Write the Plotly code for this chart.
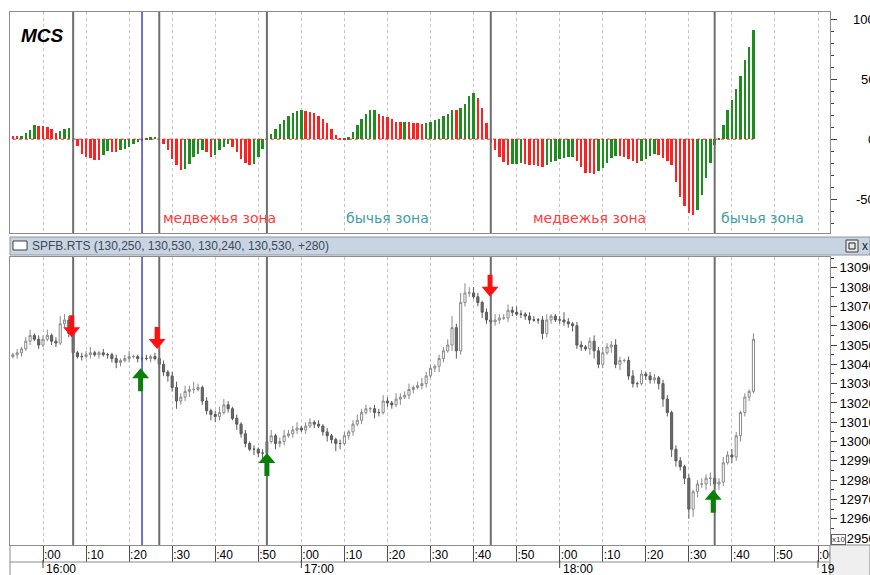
import pandas as pd
import plotly.graph_objects as go

DAY = "2013-01-01 "
first_bar = DAY + "15:53"

# MCS indicator, one value per minute (15:53 .. 18:45)
mcs = [3, 2.5, 3, 5, 8, 11.5, 11.2, 10.8, 10, 8.5, 5.5, 6.5, 8.5, 9,
       -2, -5.8, -12.2, -14.5, -15.8, -17, -17.5, -13.6, -10, -10.8, -11.1, -9.4, -8.1, -6.7, -4.4, -2.5,
       -0.8, 0.8, 1.5, 2.2, -0.5,
       -3.9, -9.4, -16.4, -21.9, -26.1, -24.7, -20.6, -15, -12.2, -8.9, -10.5, -14.5, -12.8, -9.4, -6.7,
       -4.2, -6.7, -10.8, -16.4, -19.5, -21.9, -20.6, -15, -8,
       0.5, 4.5, 8.5, 12.5, 16, 19, 21.5, 23.5, 24,
       23.5, 22.8, 21.5, 19.5, 17, 13.3, 8.6, 3.6, 1.2, 0.3,
       1.5, 5.8, 11.4, 16.9, 21.1, 23.9, 24.5,
       21.1, 19.7, 18.3, 16.9, 14.2, 14.0, 14.3, 14.1, 13.3, 13.1, 12.8,
       13.3, 14.2, 15.6, 16.9, 18.9, 21.1, 24.4, 24.2, 26, 29.4, 36.1, 38.9, 34.4, 26.1, 13.3,
       -3, -9.4, -15, -19.2, -21.9, -21.1, -20.5, -19.7, -20.3, -21.4, -21.9, -22.5, -23.3, -21.9, -19.2,
       -17.8, -16.4, -15.8, -15, -14.7,
       -18.6, -22.8, -27.8, -28.3, -28.8, -26.9, -24.2, -20, -15.8, -13.9, -14.4, -15, -16.7, -18.6, -20,
       -18.6, -16.7, -14.4, -12.2, -13.1, -15.8, -18.6, -21.4, -35.3, -47.8, -56.1, -61.7, -63.1, -58.9,
       -46.4, -32.5, -20, -5, 0.3,
       11.9, 24.4, 32.8, 41.7, 52.8, 66.1, 76.7, 90.6]

# SPFB.RTS one-minute candles (price shown /10)
first_open = 13044
close = [13045, 13046, 13048, 13052, 13055, 13053, 13050, 13053, 13055, 13052,
         13051, 13061, 13063, 13056, 13046, 13044, 13044, 13045, 13046, 13045,
         13046, 13045, 13045, 13043, 13041, 13042, 13043, 13044, 13044, 13043,
         13043, 13043, 13044, 13043, 13040, 13036, 13034, 13028, 13021, 13023,
         13026, 13027, 13027, 13028, 13021, 13016, 13014, 13013, 13015, 13019,
         13017, 13012, 13009, 13004, 12999, 12996, 12996, 12994, 12994, 13000,
         13003, 12999, 13000, 13003, 13004, 13006, 13007, 13006, 13008, 13010,
         13009, 13008, 13005, 13003, 13001, 12999, 12999, 13003, 13005, 13009,
         13011, 13015, 13017, 13017, 13015, 13015, 13021, 13020, 13019, 13022,
         13023, 13024, 13027, 13028, 13029, 13030, 13034, 13038, 13039, 13043,
         13047, 13050, 13059, 13047, 13072, 13077, 13077, 13075, 13072, 13067,
         13063, 13062, 13063, 13064, 13064, 13068, 13067, 13066, 13066, 13065,
         13063, 13063, 13063, 13056, 13063, 13065, 13063, 13063, 13062, 13061,
         13060, 13050, 13049, 13048, 13052, 13047, 13040, 13046, 13049, 13050,
         13040, 13042, 13042, 13034, 13030, 13030, 13035, 13034, 13032, 13033,
         13030, 13022, 13015, 12996, 12990, 12987, 12981, 12965, 12974, 12978,
         12978, 12981, 12981, 12978, 12979, 12989, 12993, 12992, 13003, 13015,
         13023, 13026, 13053]
wick_hi = [1, 2, 1, 2, 3, 1, 2, 2, 3, 1, 2, 4, 3, 2, 1, 1, 2, 2, 3, 1,
           1, 2, 1, 1, 2, 1, 2, 3, 1, 1, 1, 2, 1, 2, 1, 2, 1, 2, 3, 2,
           3, 2, 4, 2, 1, 2, 1, 2, 3, 3, 2, 1, 2, 1, 2, 1, 2, 1, 2, 2,
           3, 1, 2, 3, 2, 2, 3, 1, 2, 2, 1, 2, 1, 2, 1, 1, 2, 2, 1, 2,
           3, 2, 2, 1, 2, 2, 3, 2, 1, 3, 2, 2, 3, 1, 2, 3, 2, 2, 1, 2,
           2, 3, 6, 2, 5, 5, 3, 3, 2, 1, 2, 1, 3, 2, 2, 3, 2, 3, 2, 1,
           2, 2, 1, 2, 3, 1, 1, 2, 4, 2, 1, 2, 2, 1, 2, 3, 2, 3, 2, 2,
           3, 2, 1, 2, 3, 1, 2, 1, 2, 2, 1, 2, 2, 1, 2, 2, 1, 2, 1, 2,
           3, 2, 3, 2, 2, 3, 2, 3, 2, 1, 2, 1, 3]
wick_lo = [1, 2, 2, 1, 2, 1, 2, 1, 1, 2, 2, 1, 2, 2, 3, 1, 2, 1, 2, 1,
           2, 1, 2, 2, 3, 2, 1, 2, 1, 2, 1, 1, 2, 1, 2, 2, 3, 2, 4, 2,
           2, 3, 2, 1, 2, 2, 3, 3, 2, 1, 2, 1, 3, 2, 2, 1, 3, 2, 3, 2,
           1, 3, 2, 2, 1, 2, 2, 1, 2, 1, 2, 1, 2, 3, 2, 4, 3, 1, 2, 2,
           1, 2, 1, 2, 3, 2, 1, 2, 2, 1, 3, 1, 2, 2, 1, 2, 2, 1, 2, 3,
           2, 1, 3, 4, 2, 2, 2, 1, 2, 3, 2, 1, 2, 2, 1, 2, 2, 1, 2, 2,
           2, 1, 2, 3, 2, 2, 1, 2, 2, 2, 3, 2, 2, 1, 3, 4, 2, 2, 1, 3,
           2, 3, 1, 2, 2, 2, 1, 2, 2, 2, 3, 4, 2, 4, 3, 2, 3, 5, 4, 3,
           2, 3, 4, 2, 3, 2, 1, 3, 2, 3, 2, 2, 1]

zone_times = ["16:07", "16:27", "16:52", "17:44", "18:36"]
blue_time = "16:23"
sell_times = ["16:06:40", "16:26:30", "17:43:50"]
sell_prices = [13054, 13048, 13075]
buy_times = ["16:22:40", "16:52", "18:35:40"]
buy_prices = [13038, 12994, 12975]
zone_labels = ["медвежья зона", "бычья зона", "медвежья зона", "бычья зона"]
zone_label_times = ["16:41", "17:20", "18:07", "18:47"]
mcs_ticks = [100, 50, 0, -50]
hour_labels = ["16:00", "17:00", "18:00", "19"]
hour_times = ["16:00", "17:00", "18:00", "19:00"]
title_text = "SPFB.RTS (130,250, 130,530, 130,240, 130,530, +280)"

# ---------------------------------------------------------------
times = pd.date_range(first_bar, periods=len(close), freq="min")
opens = [first_open] + close[:-1]
highs = [max(o, c) + w for o, c, w in zip(opens, close, wick_hi)]
lows = [min(o, c) - w for o, c, w in zip(opens, close, wick_lo)]
GREEN, RED = "#1f8c1f", "#ff2020"
bar_colors = [GREEN if i > 0 and mcs[i] > mcs[i - 1] else RED for i in range(len(mcs))]

x_range = [DAY + "15:52:20", DAY + "19:02:47"]
tickvals = pd.date_range(DAY + "15:50", DAY + "19:00", freq="10min")
ticktext = [f":{t.minute:02d}" for t in tickvals]

FONT = "Liberation Sans"
GRID = "#c4c4c4"
BORDER = "#8c8c8c"

fig = go.Figure()
fig.add_trace(go.Bar(x=times, y=mcs, marker=dict(color=bar_colors, line=dict(width=0)),
                     width=34000, xaxis="x", yaxis="y", showlegend=False, hoverinfo="skip"))
fig.add_trace(go.Scatter(x=[times[0], times[-1]], y=[0, 0], mode="lines",
                         line=dict(color=RED, width=1, dash="dot"), xaxis="x", yaxis="y",
                         showlegend=False, hoverinfo="skip"))
fig.add_trace(go.Candlestick(x=times, open=opens, high=highs, low=lows, close=close,
                             increasing=dict(fillcolor="white", line=dict(color="#8a8a8a", width=1)),
                             decreasing=dict(fillcolor="#6a6a6a", line=dict(color="#5a5a5a", width=1)),
                             whiskerwidth=0, xaxis="x2", yaxis="y2", showlegend=False))

top_dom = [0.5854, 1.0]
bot_dom = [0.0, 0.5403]

fig.update_layout(
    width=870, height=575,
    margin=dict(l=10, r=40, t=12, b=30),
    paper_bgcolor="white", plot_bgcolor="white",
    font=dict(family=FONT, size=12, color="black"),
    bargap=0,
    xaxis=dict(domain=[0, 1], anchor="y", range=x_range, type="date", automargin=False,
               tickvals=tickvals, showticklabels=False, ticks="",
               showgrid=True, gridcolor=GRID, griddash="dot", gridwidth=1,
               showline=True, mirror=True, linecolor=BORDER, linewidth=1,
               rangeslider=dict(visible=False)),
    yaxis=dict(domain=top_dom, anchor="x", range=[-78.2, 106], side="right", automargin=False,
               showgrid=False, zeroline=False, showline=True, mirror=True,
               linecolor=BORDER, linewidth=1,
               tickvals=mcs_ticks, ticks="outside", ticklen=6, tickcolor="#404040",
               showticklabels=False,
               minor=dict(tick0=0, dtick=10, ticks="outside", ticklen=3, tickcolor="#404040")),
    xaxis2=dict(domain=[0, 1], anchor="y2", range=x_range, type="date", automargin=False,
                tickvals=tickvals, ticktext=ticktext, ticks="outside", ticklen=16,
                tickcolor="#505050", ticklabelposition="outside right",
                ticklabelstandoff=-1, tickfont=dict(size=12, family=FONT),
                showgrid=True, gridcolor=GRID, griddash="dot", gridwidth=1,
                showline=True, mirror=True, linecolor=BORDER, linewidth=1,
                rangeslider=dict(visible=False)),
    yaxis2=dict(domain=bot_dom, anchor="x2", range=[12946.4, 13095.6], side="right", automargin=False,
                showgrid=False, zeroline=False, showline=True, mirror=True,
                linecolor=BORDER, linewidth=1,
                tick0=0, dtick=10, tickformat="d", ticks="outside", ticklen=6,
                tickcolor="#404040", tickfont=dict(size=13, family=FONT),
                minor=dict(tick0=0, dtick=5, ticks="outside", ticklen=3, tickcolor="#404040")),
)

shapes = []
# zone-change vertical lines in both panels
for t in zone_times:
    for xr, yr in (("x", "y domain"), ("x2", "y2 domain")):
        shapes.append(dict(type="line", xref=xr, yref=yr, x0=DAY + t, x1=DAY + t, y0=0, y1=1,
                           line=dict(color="#6e6e6e", width=2)))
for xr, yr in (("x", "y domain"), ("x2", "y2 domain")):
    shapes.append(dict(type="line", xref=xr, yref=yr, x0=DAY + blue_time, x1=DAY + blue_time,
                       y0=0, y1=1, line=dict(color="#4646b8", width=1.5)))

# block arrows for signals (pixel-sized paths anchored at the signal price)
DOWN_ARROW = "M0,0 L-8.5,10 L-2.5,10 L-2.5,22 L2.5,22 L2.5,10 L8.5,10 Z"
UP_ARROW = "M0,0 L-8.5,-10 L-2.5,-10 L-2.5,-23 L2.5,-23 L2.5,-10 L8.5,-10 Z"
for t, p in zip(sell_times, sell_prices):
    shapes.append(dict(type="path", xref="x2", yref="y2", xsizemode="pixel", ysizemode="pixel",
                       xanchor=DAY + t, yanchor=p, path=DOWN_ARROW,
                       fillcolor="#ff1010", line=dict(width=0), layer="above"))
for t, p in zip(buy_times, buy_prices):
    shapes.append(dict(type="path", xref="x2", yref="y2", xsizemode="pixel", ysizemode="pixel",
                       xanchor=DAY + t, yanchor=p, path=UP_ARROW,
                       fillcolor="#0a800a", line=dict(width=0), layer="above"))

# title bar of price pane
tb_y0, tb_y1 = (545 - 255) / 533, (545 - 237) / 533
shapes.append(dict(type="rect", xref="paper", yref="paper", x0=0, x1=(870 - 10) / 820,
                   y0=tb_y0, y1=tb_y1, fillcolor="#c8d4e2", line=dict(color="#8a96a4", width=1)))
shapes.append(dict(type="rect", xref="paper", yref="paper", x0=3 / 820, x1=17 / 820,
                   y0=(545 - 250) / 533, y1=(545 - 241) / 533, fillcolor="white",
                   line=dict(color="#404040", width=1)))
shapes.append(dict(type="rect", xref="paper", yref="paper", x0=(846 - 10) / 820, x1=(858 - 10) / 820,
                   y0=(545 - 252) / 533, y1=(545 - 240) / 533, fillcolor="#e8e8e8",
                   line=dict(color="#404040", width=1)))
shapes.append(dict(type="rect", xref="paper", yref="paper", x0=(849 - 10) / 820, x1=(855 - 10) / 820,
                   y0=(545 - 249) / 533, y1=(545 - 243) / 533, fillcolor="rgba(0,0,0,0)",
                   line=dict(color="#202020", width=1)))
# time-scale band
shapes.append(dict(type="line", xref="paper", yref="paper", x0=0, x1=1,
                   y0=(545 - 562) / 533, y1=(545 - 562) / 533, line=dict(color=BORDER, width=1)))
shapes.append(dict(type="line", xref="paper", yref="paper", x0=0, x1=0,
                   y0=(545 - 575) / 533, y1=0, line=dict(color=BORDER, width=1)))
for t in hour_times:
    shapes.append(dict(type="line", xref="x2", yref="paper", x0=DAY + t, x1=DAY + t,
                       y0=(545 - 568) / 533, y1=(545 - 560) / 533, line=dict(color="#404040", width=1)))
shapes.append(dict(type="rect", xref="paper", yref="paper", x0=1, x1=(870 - 10) / 820,
                   y0=(545 - 576) / 533, y1=0, fillcolor="#efefef", line=dict(color=BORDER, width=1),
                   layer="above"))
fig.update_layout(shapes=shapes)

ann = []
ann.append(dict(text="<b><i>MCS</i></b>", xref="paper", yref="paper", x=(19 - 10) / 820,
                y=(545 - 35) / 533, xanchor="left", yanchor="middle", showarrow=False,
                font=dict(size=19, family=FONT, color="black")))
for v in mcs_ticks:
    ann.append(dict(text=str(v), xref="paper", yref="y", x=(877 - 10) / 820, y=v,
                    xanchor="right", yanchor="middle", showarrow=False,
                    font=dict(size=13, family=FONT, color="black")))
for lbl, t in zip(zone_labels, zone_label_times):
    col = "#ff3c3c" if lbl.startswith("медв") else "#3f9ea3"
    ann.append(dict(text=lbl, xref="x", yref="paper", x=DAY + t, y=(545 - 218) / 533,
                    xanchor="center", yanchor="middle", showarrow=False,
                    font=dict(size=14, family="DejaVu Sans", color=col)))
ann.append(dict(text=title_text, xref="paper", yref="paper", x=(30 - 10) / 820,
                y=(tb_y0 + tb_y1) / 2, xanchor="left", yanchor="middle", showarrow=False,
                font=dict(size=12, family=FONT, color="#3c4a5a")))
ann.append(dict(text="x", xref="paper", yref="paper", x=(865 - 10) / 820,
                y=(tb_y0 + tb_y1) / 2, xanchor="center", yanchor="middle", showarrow=False,
                font=dict(size=12, family=FONT, color="#202020")))
for lbl, t in zip(hour_labels, hour_times):
    ann.append(dict(text=lbl, xref="x2", yref="paper", x=DAY + t, y=(545 - 569) / 533,
                    xanchor="left", yanchor="middle", showarrow=False, xshift=1,
                    font=dict(size=12, family=FONT, color="black")))
ann.append(dict(text="x10", xref="paper", yref="paper", x=(831 - 10) / 820, y=(545 - 539) / 533,
                xanchor="left", yanchor="middle", showarrow=False, borderpad=0,
                bordercolor="#606060", borderwidth=1, bgcolor="white",
                font=dict(size=8, family=FONT, color="#303030")))
fig.update_layout(annotations=ann)

fig.write_html("out.html", config={"displayModeBar": False},
               post_script="document.body.style.margin='0';document.body.style.overflow='hidden';")
